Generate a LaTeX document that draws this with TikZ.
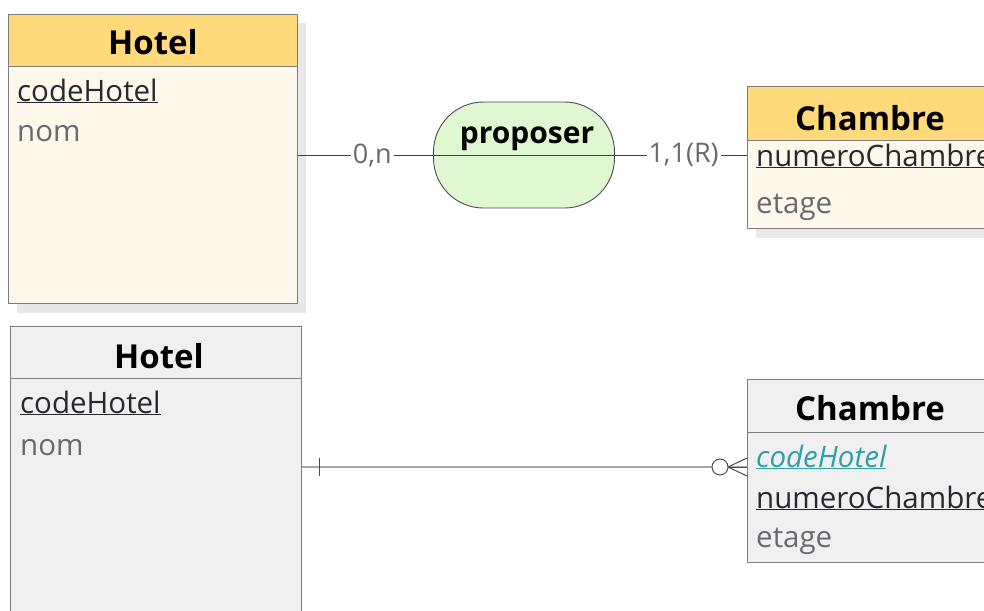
\documentclass[tikz,border=0pt]{standalone}
\usepackage{fontspec}
\setmainfont{Open Sans}
\usetikzlibrary{calc}
\usetikzlibrary{shadows}
\definecolor{entyellow}{RGB}{255,217,122}
\definecolor{entcream}{RGB}{253,248,233}
\definecolor{entgray}{RGB}{240,240,240}
\definecolor{boxline}{RGB}{125,125,125}
\definecolor{assocgreen}{RGB}{224,248,210}
\definecolor{attrgray}{RGB}{105,105,112}
\definecolor{keydark}{RGB}{40,40,48}
\definecolor{fkteal}{RGB}{50,158,166}
\definecolor{linkgray}{RGB}{168,168,168}
\newcommand{\attrfont}{\fontsize{29.5}{32}\selectfont}
\newcommand{\headfont}{\fontsize{33}{36}\selectfont\bfseries}
\tikzstyle{entbody}=[draw=boxline,line width=1pt,anchor=north west,inner sep=0pt]
\tikzstyle{enthead}=[draw=boxline,line width=1pt,anchor=north west,inner sep=0pt,minimum height=52pt]
\tikzstyle{boxshadow}=[drop shadow={shadow xshift=8pt,shadow yshift=-9pt,fill=black!9,opacity=1}]
\tikzstyle{headtext}=[anchor=base,inner sep=0pt,font=\headfont]
\tikzstyle{keyattr}=[anchor=base west,inner sep=0pt,font=\attrfont,text=keydark]
\tikzstyle{plainattr}=[anchor=base west,inner sep=0pt,font=\attrfont,text=attrgray]
\tikzstyle{card}=[fill=white,inner sep=2pt,font=\fontsize{27}{30}\selectfont,text=attrgray]
\tikzstyle{assocline}=[draw=black!75,line width=0.9pt]
\tikzstyle{fkline}=[draw=linkgray,line width=2.2pt]
\tikzstyle{tickline}=[draw=black!70,line width=1pt]

\begin{document}
\begin{tikzpicture}[x=1pt,y=-1pt]
  \useasboundingbox (0,0) rectangle (984,610);
  \clip (0,0) rectangle (984,610);

  % upper diagram: entity / association
  \node[entbody,boxshadow,fill=entcream,minimum width=289pt,minimum height=289pt] (hotelA) at (8,14) {};
  \node[enthead,fill=entyellow,minimum width=289pt] (hotelAhead) at (8,14) {};
  \node[headtext] (hotelAname) at (153,55) {Hotel};
  \node[keyattr] (hotelAkey) at (17,101) {\underline{codeHotel}};
  \node[plainattr] (hotelAnom) at (17,141) {nom};

  \node[entbody,boxshadow,fill=entcream,minimum width=246pt,minimum height=142pt] (chambreA) at (747,86) {};
  \node[enthead,fill=entyellow,minimum width=246pt,minimum height=54pt] (chambreAhead) at (747,86) {};
  \node[headtext] (chambreAname) at (870,130) {Chambre};
  \node[keyattr] (chambreAkey) at (756,166) {\underline{numeroChambre}};
  \node[plainattr] (chambreAetage) at (756,213) {etage};

  \node[draw=black!70,line width=0.9pt,fill=assocgreen,rounded corners=50pt,
        minimum width=181pt,minimum height=106pt,inner sep=0pt] (proposer) at (524,155) {};
  \draw[assocline] (proposer.west) -- (proposer.east);
  \node[headtext,font=\fontsize{30}{33}\selectfont\bfseries] (proposername) at (527,143) {proposer};

  \draw[assocline] (hotelA.east |- proposer.west) -- node[card,pos=0.55] (cardA) {0,n} (proposer.west);
  \draw[assocline] (proposer.east) -- node[card,pos=0.52] (cardB) {1,1(R)} (chambreA.west |- proposer.east);

  % lower diagram: tables
  \node[entbody,fill=entgray,minimum width=291pt,minimum height=300pt] (hotelB) at (10,326) {};
  \node[enthead,fill=entgray,minimum width=291pt] (hotelBhead) at (10,326) {};
  \node[headtext] (hotelBname) at (159,368) {Hotel};
  \node[keyattr] (hotelBkey) at (20,413) {\underline{codeHotel}};
  \node[plainattr] (hotelBnom) at (20,455) {nom};

  \node[entbody,fill=entgray,minimum width=246pt,minimum height=183pt] (chambreB) at (747,379) {};
  \node[enthead,fill=entgray,minimum width=246pt,minimum height=53pt] (chambreBhead) at (747,379) {};
  \node[headtext] (chambreBname) at (870,420) {Chambre};
  \node[keyattr,text=fkteal,font=\attrfont\itshape] (chambreBfk) at (756,467) {\underline{codeHotel}};
  \node[keyattr] (chambreBkey) at (756,508) {\underline{numeroChambre}};
  \node[plainattr] (chambreBetage) at (756,547) {etage};

  \coordinate (crowtip) at (chambreB.west |- 0,467);
  \coordinate (linkstart) at (hotelB.east |- crowtip);
  \draw[fkline] (linkstart) -- (crowtip);
  \draw[tickline] ($(linkstart)+(17,-9)$) -- ($(linkstart)+(17,9)$);
  \draw[tickline] ($(crowtip)+(0,-9)$) -- ($(crowtip)+(-19,0)$) -- ($(crowtip)+(0,9)$);
  \draw[tickline] ($(crowtip)+(-19,0)$) -- (crowtip);
  \draw[tickline,fill=white] ($(crowtip)+(-27,0)$) circle (8pt);
\end{tikzpicture}
\end{document}
